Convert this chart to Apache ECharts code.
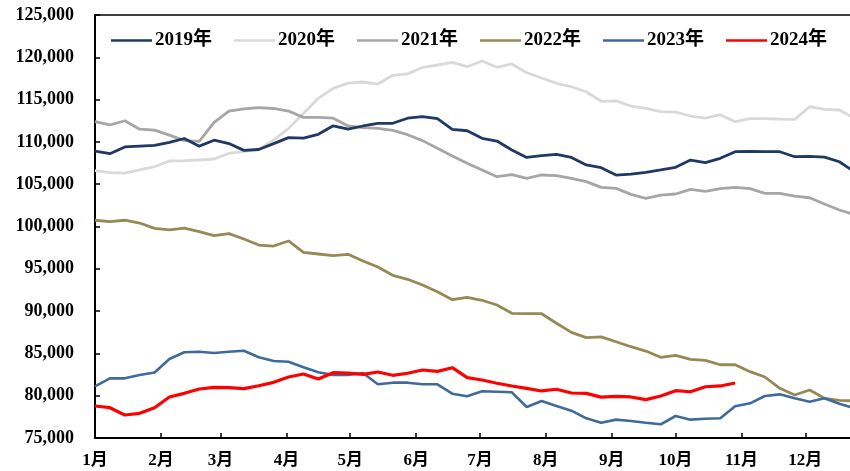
<!DOCTYPE html>
<html>
<head>
<meta charset="utf-8">
<script src="https://cdn.jsdelivr.net/npm/echarts@6/dist/echarts.min.js"></script>
<style>
html,body{margin:0;padding:0;background:#fff;}
#chart{width:850px;height:471px;}
</style>
</head>
<body>
<div id="chart"></div>
<script>
// Weekly observations (week index i -> day i*7 of the year)
const seriesNames = ['2019年','2020年','2021年','2022年','2023年','2024年'];
const monthStartDays = [0,31,59,90,120,151,181,212,243,273,304,334];
const monthLabels = ['1月','2月','3月','4月','5月','6月','7月','8月','9月','10月','11月','12月'];

const y2019 = [108900,108600,109400,109500,109600,109950,110400,109500,110200,109800,109000,109100,109800,110500,110450,110900,111900,111500,111880,112200,112200,112800,113000,112750,111480,111320,110420,110100,109040,108170,108370,108530,108170,107270,106950,106080,106200,106400,106680,106990,107860,107540,108060,108840,108890,108840,108840,108250,108290,108210,107650,106480];
const y2020 = [106600,106360,106320,106680,107070,107740,107780,107860,107980,108650,108890,109120,110220,111600,113370,115150,116330,116950,117080,116840,117870,118030,118820,119090,119410,118890,119560,118820,119210,118180,117550,116930,116520,115930,114800,114850,114240,113960,113570,113530,113060,112820,113220,112390,112740,112740,112700,112670,114160,113850,113770,112800];
const y2021 = [112400,112000,112500,111500,111400,110800,110150,110050,112300,113650,113900,114050,113950,113650,112900,112900,112800,111880,111680,111600,111360,110850,110150,109240,108330,107470,106680,105890,106130,105700,106090,106010,105700,105300,104630,104510,103800,103330,103720,103840,104390,104160,104470,104630,104470,103920,103920,103600,103400,102660,101950,101400];
const y2022 = [100740,100570,100740,100410,99780,99590,99820,99390,98910,99150,98520,97810,97690,98290,96950,96750,96550,96710,95920,95210,94230,93760,93080,92290,91350,91630,91280,90720,89740,89690,89690,88560,87490,86860,86960,86380,85790,85280,84540,84770,84300,84180,83660,83660,82840,82210,80870,80080,80670,79690,79450,79380];
const y2023 = [81100,82050,82050,82450,82750,84340,85130,85200,85050,85200,85320,84540,84100,84020,83360,82770,82450,82450,82680,81350,81540,81540,81350,81350,80240,79930,80520,80470,80400,78660,79370,78780,78230,77330,76800,77170,77010,76810,76620,77600,77170,77280,77330,78750,79100,79960,80160,79690,79290,79690,79060,78520];
const y2024 = [78780,78580,77720,77920,78580,79850,80280,80790,80990,80950,80830,81180,81580,82210,82560,81970,82720,82670,82530,82800,82410,82650,83040,82880,83310,82130,81860,81470,81150,80870,80560,80760,80320,80280,79830,79930,79850,79530,79960,80590,80470,81060,81150,81500];

const yTicks = {min:75000, max:125000, interval:5000};
const colors = ['#1F3864','#D9D9D9','#A6A6A6','#948A54','#3F6A9C','#FF0000'];
const widths = [2.8,2.8,2.8,2.8,2.6,3.2];
const allData = [y2019,y2020,y2021,y2022,y2023,y2024];

const fontFam = '"Liberation Serif","Times New Roman","Noto Sans CJK SC",serif';
function toPairs(arr){ return arr.map((v,i)=>[i*7, v]); }
function fmtNum(v){ return String(v).replace(/\B(?=(\d{3})+(?!\d))/g, ','); }

const chart = echarts.init(document.getElementById('chart'), null, {renderer:'canvas'});
const order = [1,2,3,4,0,5];
chart.setOption({
  animation:false,
  backgroundColor:'#fff',
  grid:{left:95,right:0,top:15,bottom:33,containLabel:false,outerBoundsMode:'none'},
  legend:{
    data:seriesNames,
    left:106, top:26,
    itemWidth:41, itemHeight:14, itemGap:22,
    icon:'path://M0,6 L40,6 L40,8.6 L0,8.6 Z',
    textStyle:{fontFamily:fontFam,fontWeight:'bold',fontSize:19,color:'#000',padding:[0,0,0,-2]}
  },
  xAxis:[{
    type:'value', min:0, max:355,
    axisLine:{show:true,lineStyle:{color:'#000',width:2}},
    axisTick:{show:true,inside:true,length:5,customValues:monthStartDays,lineStyle:{color:'#000',width:1.5}},
    axisLabel:{show:true,customValues:monthStartDays,margin:14,
      formatter:function(v){ const k=monthStartDays.indexOf(v); return k>=0?monthLabels[k]:''; },
      fontFamily:fontFam,fontWeight:'bold',fontSize:17,color:'#000'},
    splitLine:{show:false}
  },{
    type:'value', position:'top', min:0, max:355,
    axisLine:{show:true,onZero:false,lineStyle:{color:'#000',width:1.5}},
    axisTick:{show:false}, axisLabel:{show:false}, splitLine:{show:false}
  }],
  yAxis:{
    type:'value', min:yTicks.min, max:yTicks.max, interval:yTicks.interval,
    axisLine:{show:true,lineStyle:{color:'#000',width:2}},
    axisTick:{show:true,inside:true,length:5,lineStyle:{color:'#000',width:1.5}},
    axisLabel:{formatter:fmtNum,margin:21,fontFamily:fontFam,fontWeight:'bold',fontSize:18,color:'#000'},
    splitLine:{show:false}
  },
  series: order.map(k=>({
    name:seriesNames[k], type:'line', xAxisIndex:0,
    data:toPairs(allData[k]),
    symbol:'none', smooth:false, clip:true,
    lineStyle:{color:colors[k],width:widths[k]},
    itemStyle:{color:colors[k]},
    z: 2 + order.indexOf(k)
  }))
});
</script>
</body>
</html>
